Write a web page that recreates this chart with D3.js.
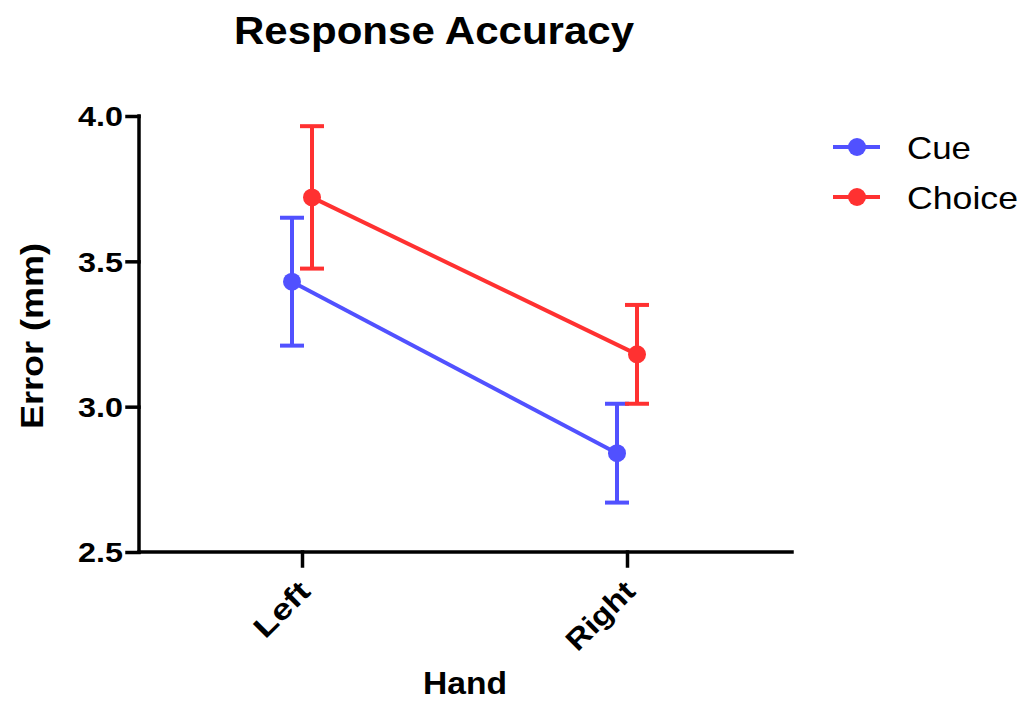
<!DOCTYPE html>
<html>
<head>
<meta charset="utf-8">
<script src="https://cdn.jsdelivr.net/npm/d3@7"></script>
<style>
  html, body { margin: 0; padding: 0; background: #fff; }
  svg { display: block; font-family: Arial, "Liberation Sans", sans-serif; }
</style>
</head>
<body>
<svg id="chart" width="1023" height="702"></svg>
<script>
// Mean pointing error (mm) with SEM, per hand and condition
const hands = ["Left", "Right"];
const seriesNames = ["Cue", "Choice"];
const cueMean = [3.43, 2.84];
const cueSem = [0.22, 0.17];
const choiceMean = [3.72, 3.18];
const choiceSem = [0.245, 0.17];
const yTicks = [2.5, 3.0, 3.5, 4.0];
const seriesColors = ["#5151ff", "#ff3131"];

const series = [
  { name: seriesNames[0], mean: cueMean, sem: cueSem, color: seriesColors[0], dx: -10 },
  { name: seriesNames[1], mean: choiceMean, sem: choiceSem, color: seriesColors[1], dx: 10 }
];

const svg = d3.select("#chart");

const x = d3.scalePoint().domain(hands).range([302, 627]);
const y = d3.scaleLinear().domain([2.5, 4.0]).range([552, 116]);
const xLeft = 139, xRight = 792;

// Axes
const yAxis = svg.append("g")
  .attr("transform", `translate(${xLeft},0)`)
  .call(d3.axisLeft(y).tickValues(yTicks).tickFormat(d3.format(".1f")).tickSize(12).tickPadding(4));
yAxis.select(".domain").attr("d", `M0,${y(4.0)}V${y(2.5)}`);

const xAxis = svg.append("g")
  .attr("transform", `translate(0,${y(2.5)})`)
  .call(d3.axisBottom(x).tickSize(14).tickFormat(""));
xAxis.select(".domain").attr("d", `M${xLeft},0H${xRight}`);

svg.selectAll(".domain, .tick line")
  .attr("stroke", "#000").attr("stroke-width", 3.5).attr("stroke-linecap", "square");

yAxis.selectAll(".tick text")
  .attr("fill", "#000")
  .attr("dy", "0.36em")
  .attr("textLength", 45)
  .attr("lengthAdjust", "spacingAndGlyphs")
  .style("font-size", "27px").style("font-weight", "bold");

// Rotated category labels
svg.append("g").selectAll("text")
  .data(hands)
  .join("text")
  .attr("transform", d => `translate(${x(d) + 10},${593}) rotate(-45)`)
  .attr("text-anchor", "end")
  .attr("textLength", d => d === "Left" ? 66 : 84)
  .attr("lengthAdjust", "spacingAndGlyphs")
  .style("font-size", "29px").style("font-weight", "bold")
  .text(d => d);

// Series: connecting line, error bars, markers
const line = d3.line().x((d, i) => x(hands[i])).y(d => y(d));
const capHalf = 12;

series.forEach(s => {
  const g = svg.append("g").attr("transform", `translate(${s.dx},0)`);
  g.append("path")
    .datum(s.mean)
    .attr("d", line)
    .attr("fill", "none")
    .attr("stroke", s.color)
    .attr("stroke-width", 4);

  const bars = g.selectAll(".err")
    .data(hands.map((h, i) => ({ h, m: s.mean[i], e: s.sem[i] })))
    .join("g");
  bars.append("line")
    .attr("x1", d => x(d.h)).attr("x2", d => x(d.h))
    .attr("y1", d => y(d.m + d.e)).attr("y2", d => y(d.m - d.e))
    .attr("stroke", s.color).attr("stroke-width", 4);
  bars.append("line")
    .attr("x1", d => x(d.h) - capHalf).attr("x2", d => x(d.h) + capHalf)
    .attr("y1", d => y(d.m + d.e)).attr("y2", d => y(d.m + d.e))
    .attr("stroke", s.color).attr("stroke-width", 4);
  bars.append("line")
    .attr("x1", d => x(d.h) - capHalf).attr("x2", d => x(d.h) + capHalf)
    .attr("y1", d => y(d.m - d.e)).attr("y2", d => y(d.m - d.e))
    .attr("stroke", s.color).attr("stroke-width", 4);
  bars.append("circle")
    .attr("cx", d => x(d.h)).attr("cy", d => y(d.m))
    .attr("r", 9)
    .attr("fill", s.color);
});

// Legend
const legend = svg.append("g");
series.forEach((s, i) => {
  const ly = 147 + i * 50;
  legend.append("line")
    .attr("x1", 833).attr("x2", 880).attr("y1", ly).attr("y2", ly)
    .attr("stroke", s.color).attr("stroke-width", 4);
  legend.append("circle")
    .attr("cx", 857).attr("cy", ly).attr("r", 9).attr("fill", s.color);
  legend.append("text")
    .attr("x", 907).attr("y", ly + 12)
    .attr("textLength", i === 0 ? 64 : 111)
    .attr("lengthAdjust", "spacingAndGlyphs")
    .style("font-size", "32px")
    .text(s.name);
});

// Titles
svg.append("text")
  .attr("x", 434).attr("y", 44)
  .attr("text-anchor", "middle")
  .attr("textLength", 400)
  .attr("lengthAdjust", "spacingAndGlyphs")
  .style("font-size", "38px").style("font-weight", "bold")
  .text("Response Accuracy");

svg.append("text")
  .attr("x", 465).attr("y", 694)
  .attr("text-anchor", "middle")
  .attr("textLength", 84)
  .attr("lengthAdjust", "spacingAndGlyphs")
  .style("font-size", "32px").style("font-weight", "bold")
  .text("Hand");

svg.append("text")
  .attr("transform", `translate(43,${336}) rotate(-90)`)
  .attr("text-anchor", "middle")
  .attr("textLength", 186)
  .attr("lengthAdjust", "spacingAndGlyphs")
  .style("font-size", "32px").style("font-weight", "bold")
  .text("Error (mm)");
</script>
</body>
</html>
